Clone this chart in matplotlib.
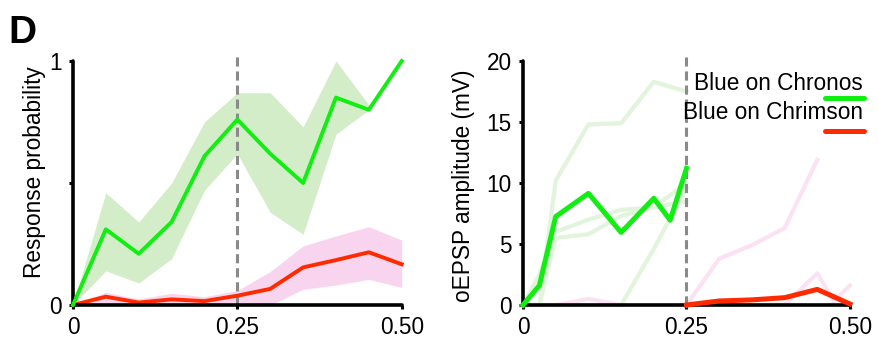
import matplotlib
matplotlib.use("Agg")
import matplotlib.pyplot as plt
import numpy as np

plt.rcParams['font.family'] = ['Liberation Sans', 'DejaVu Sans']

# ---- Left panel data ----
x_left = [0, 0.05, 0.10, 0.15, 0.20, 0.25, 0.30, 0.35, 0.40, 0.45, 0.50]
chronos_prob = [0, 0.31, 0.21, 0.34, 0.61, 0.76, 0.62, 0.50, 0.85, 0.80, 1.0]
chronos_upper = [0, 0.46, 0.34, 0.50, 0.75, 0.87, 0.87, 0.73, 1.0, 0.82, 1.0]
chronos_lower = [0, 0.14, 0.09, 0.19, 0.47, 0.62, 0.38, 0.29, 0.70, 0.80, 1.0]
chrimson_prob = [0, 0.034, 0.01, 0.023, 0.016, 0.038, 0.066, 0.154, 0.184, 0.216, 0.167]
chrimson_upper = [0, 0.052, 0.025, 0.048, 0.034, 0.059, 0.137, 0.242, 0.283, 0.321, 0.266]
chrimson_lower = [0, 0.007, 0, 0.007, 0.004, 0.012, 0, 0.064, 0.082, 0.105, 0.072]

# ---- Right panel data ----
x_chronos = [0, 0.025, 0.05, 0.10, 0.15, 0.20, 0.225, 0.25]
chronos_amp = [0, 1.6, 7.25, 9.15, 5.95, 8.75, 6.95, 11.2]
x_cells = [0, 0.025, 0.05, 0.10, 0.15, 0.20, 0.25]
chronos_cells = [
    [0, 0, 10.2, 14.8, 14.9, 18.3, 17.5],
    [0, 2.5, 6.0, 7.0, 7.8, 8.0, 10.0],
    [0, 0, 5.5, 5.8, 7.3, 8.0, 8.5],
    [0, 0, 0, 0, 0, 4.6, 9.6],
]
x_chrimson = [0.25, 0.30, 0.35, 0.40, 0.45, 0.50]
chrimson_amp = [0, 0.33, 0.42, 0.6, 1.28, 0.08]
x_chrimson_cells = [0.25, 0.30, 0.35, 0.40, 0.45, 0.475, 0.50]
chrimson_cells = [
    [0, 3.8, 4.9, 6.3, 11.9, np.nan, np.nan],
    [0, 0, 0, 0, 2.6, 0.3, 1.6],
]
x_chrimson_early = [0.05, 0.10, 0.15]
chrimson_early = [0, 0.5, 0]

GREEN = '#11EE11'
RED = '#FF2A00'
GREEN_BAND = '#D3EDC8'
PINK_BAND = '#F9D4EE'
GREEN_FAINT = '#E2F4DC'
PINK_FAINT = '#FBE2F3'
GRAY = '#8A8A8A'
FS = 16.3

fig = plt.figure(figsize=(8.79, 3.41), dpi=100)
ax1 = fig.add_axes([0.083, 0.1056, 0.374, 0.7155])
ax2 = fig.add_axes([0.595, 0.1056, 0.372, 0.7155])

# Left
ax1.fill_between(x_left, chronos_lower, chronos_upper, color=GREEN_BAND, lw=0)
ax1.fill_between(x_left, chrimson_lower, chrimson_upper, color=PINK_BAND, lw=0)
ax1.plot([0.25, 0.25], [0, 1.02], color=GRAY, lw=2.2, ls=(0, (3, 1.6)), clip_on=False, zorder=3)
ax1.plot(x_left, chrimson_prob, color=RED, lw=2.8, zorder=4, clip_on=False)
ax1.plot(x_left, chronos_prob, color=GREEN, lw=2.8, zorder=5, clip_on=False)
ax1.set_xlim(0, 0.5)
ax1.set_ylim(0, 1)
ax1.set_xticks([0, 0.25, 0.5])
ax1.set_xticklabels(['0', '0.25', '0.50'])
ax1.set_yticks([0, 0.5, 1])
ax1.set_yticklabels(['0', '', '1'])
ax1.set_ylabel('Response probability', fontsize=FS)
ax1.yaxis.set_label_coords(-0.082, 0.545)

# Right
for cell in chronos_cells:
    ax2.plot(x_cells, cell, color=GREEN_FAINT, lw=3, zorder=2, clip_on=False)
for cell in chrimson_cells:
    ax2.plot(x_chrimson_cells, cell, color=PINK_FAINT, lw=3, zorder=2, clip_on=False)
ax2.plot(x_chrimson_early, chrimson_early, color=PINK_FAINT, lw=3, zorder=2, clip_on=False)
ax2.plot([0.25, 0.25], [0, 20.3], color=GRAY, lw=2.2, ls=(0, (3, 1.6)), clip_on=False, zorder=3)
ax2.plot(x_chronos, chronos_amp, color=GREEN, lw=3.6, zorder=5, clip_on=False,
         label='Blue on Chronos')
ax2.plot(x_chrimson, chrimson_amp, color=RED, lw=3.6, zorder=5, clip_on=False,
         label='Blue on Chrimson')
ax2.set_xlim(0, 0.5)
ax2.set_ylim(0, 20)
ax2.set_xticks([0, 0.25, 0.5])
ax2.set_xticklabels(['0', '0.25', '0.50'])
ax2.set_yticks([0, 5, 10, 15, 20])
ax2.set_ylabel('oEPSP amplitude (mV)', fontsize=FS)
ax2.yaxis.set_label_coords(-0.147, 0.49)

# legend as text + line segments
fig.text(0.982, 0.754, 'Blue on Chronos', ha='right', va='center', fontsize=FS)
fig.text(0.982, 0.669, 'Blue on Chrimson', ha='right', va='center', fontsize=FS)
fig.add_artist(plt.Line2D([0.9386, 0.983], [0.713, 0.713], color=GREEN, lw=3.6,
                          solid_capstyle='round', transform=fig.transFigure))
fig.add_artist(plt.Line2D([0.9386, 0.983], [0.616, 0.616], color=RED, lw=3.6,
                          solid_capstyle='round', transform=fig.transFigure))

for ax in (ax1, ax2):
    ax.spines['top'].set_visible(False)
    ax.spines['right'].set_visible(False)
    for s in ('left', 'bottom'):
        ax.spines[s].set_linewidth(2.6)
        ax.spines[s].set_capstyle('round')
        ax.spines[s].set_zorder(4)
    ax.tick_params(axis='both', direction='out', length=3, width=2.2, labelsize=FS, pad=5)
    ax.patch.set_alpha(0)

fig.text(0.01, 0.955, 'D', fontsize=28, fontweight='bold', ha='left', va='top')

fig.savefig('out.png', dpi=100)
